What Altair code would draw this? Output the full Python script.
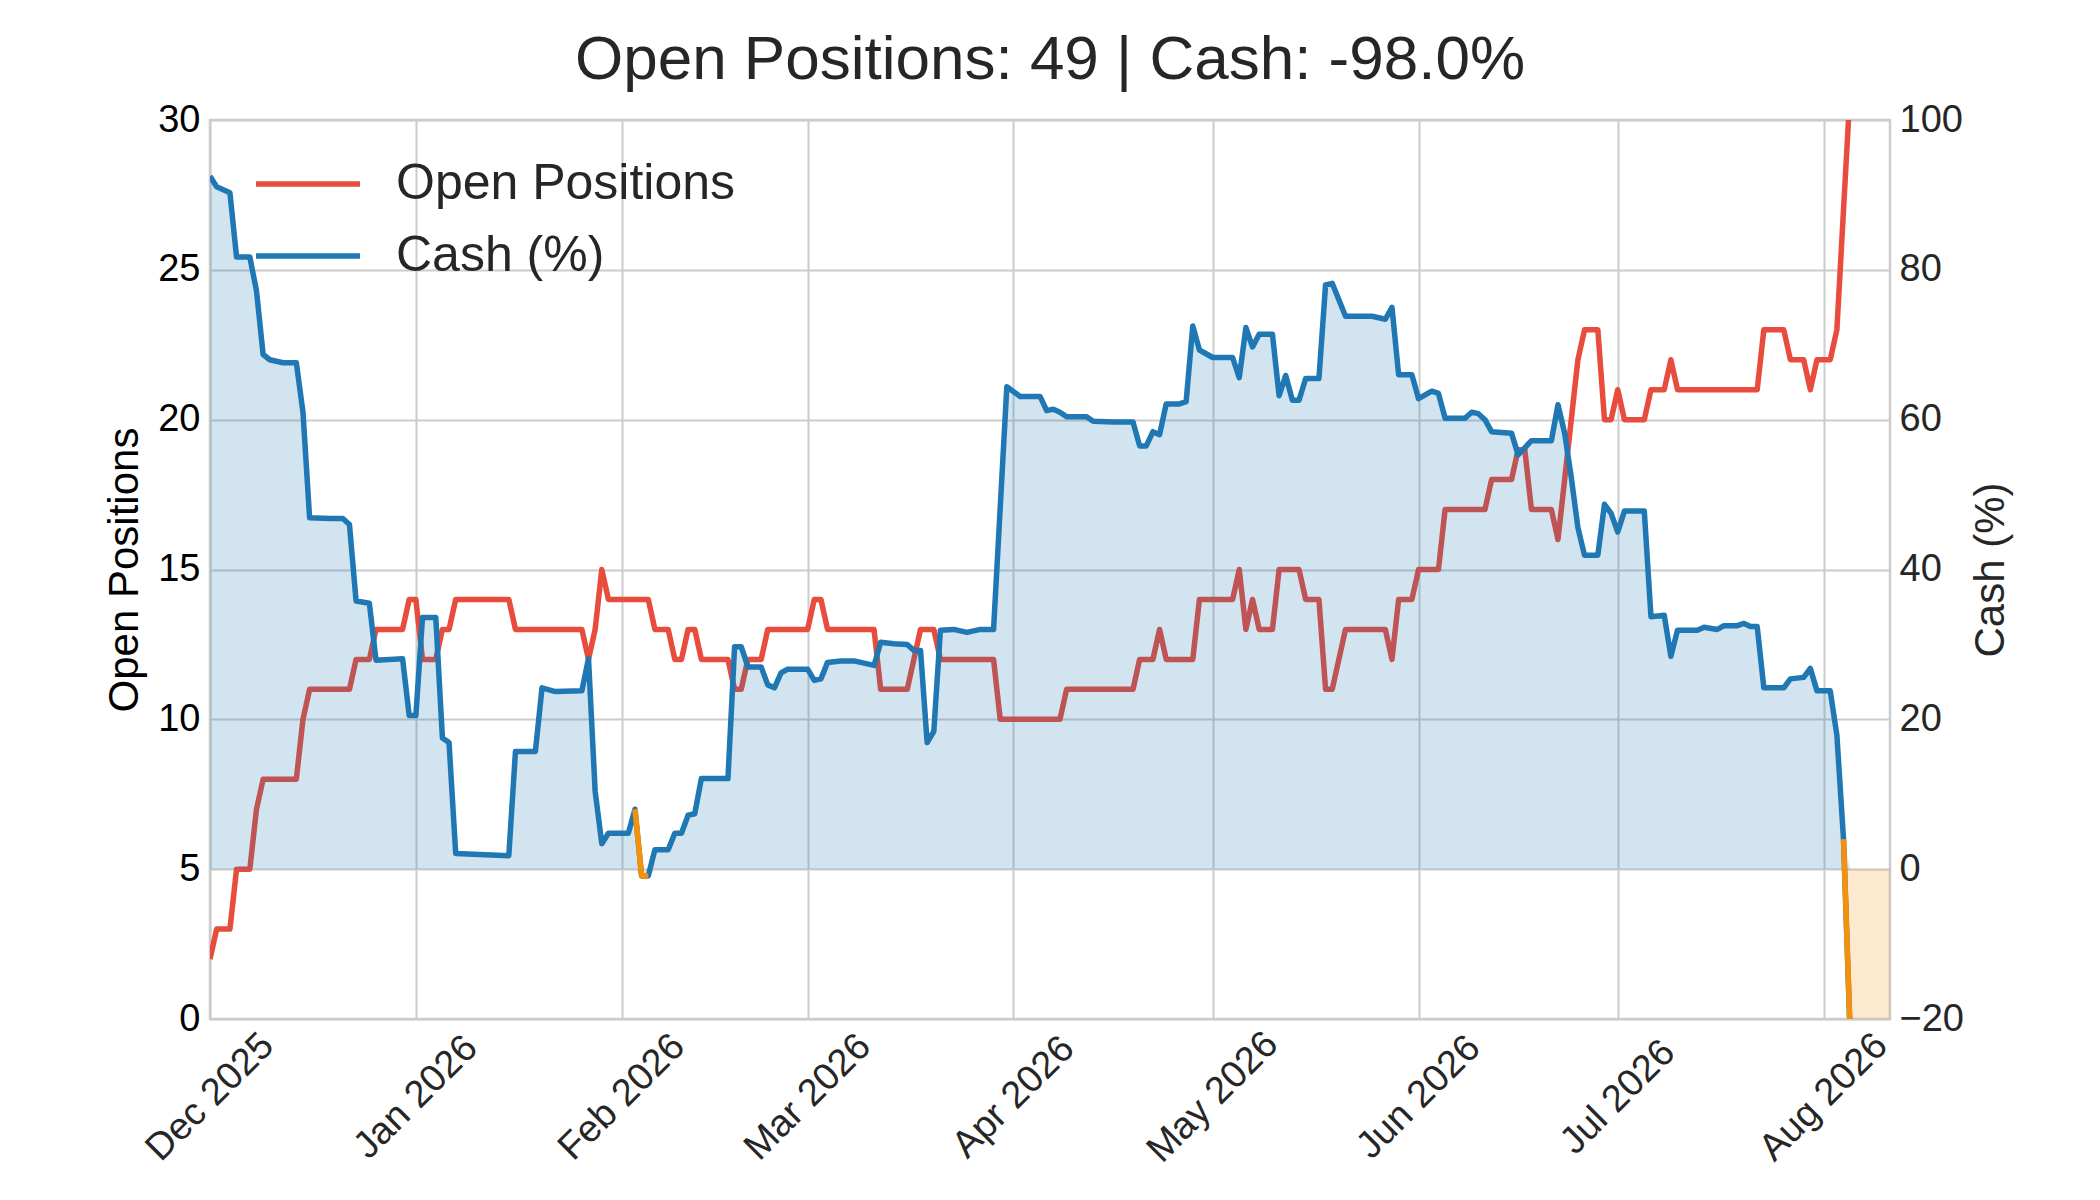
import altair as alt
import pandas as pd

# ---------------- data ----------------
pos_dates = [
    "2025-12-01", "2025-12-02", "2025-12-04", "2025-12-05", "2025-12-07", "2025-12-08",
    "2025-12-09", "2025-12-14", "2025-12-15", "2025-12-16", "2025-12-22", "2025-12-23",
    "2025-12-25", "2025-12-26", "2025-12-30", "2025-12-31", "2026-01-01", "2026-01-02",
    "2026-01-04", "2026-01-05", "2026-01-06", "2026-01-07", "2026-01-15", "2026-01-16",
    "2026-01-26", "2026-01-27", "2026-01-28", "2026-01-29", "2026-01-30", "2026-02-05",
    "2026-02-06", "2026-02-08", "2026-02-09", "2026-02-10", "2026-02-11", "2026-02-12",
    "2026-02-13", "2026-02-17", "2026-02-18", "2026-02-19", "2026-02-20", "2026-02-22",
    "2026-02-23", "2026-03-01", "2026-03-02", "2026-03-03", "2026-03-04", "2026-03-11",
    "2026-03-12", "2026-03-16", "2026-03-17", "2026-03-18", "2026-03-20", "2026-03-21",
    "2026-03-29", "2026-03-30", "2026-04-08", "2026-04-09", "2026-04-19", "2026-04-20",
    "2026-04-22", "2026-04-23", "2026-04-24", "2026-04-28", "2026-04-29", "2026-05-04",
    "2026-05-05", "2026-05-06", "2026-05-07", "2026-05-08", "2026-05-10", "2026-05-11",
    "2026-05-14", "2026-05-15", "2026-05-17", "2026-05-18", "2026-05-19", "2026-05-21",
    "2026-05-27", "2026-05-28", "2026-05-29", "2026-05-31", "2026-06-01", "2026-06-04",
    "2026-06-05", "2026-06-11", "2026-06-12", "2026-06-15", "2026-06-16", "2026-06-17",
    "2026-06-18", "2026-06-21", "2026-06-22", "2026-06-23", "2026-06-24", "2026-06-25",
    "2026-06-26", "2026-06-28", "2026-06-29", "2026-06-30", "2026-07-01", "2026-07-02",
    "2026-07-05", "2026-07-06", "2026-07-08", "2026-07-09", "2026-07-10", "2026-07-22",
    "2026-07-23", "2026-07-26", "2026-07-27", "2026-07-29", "2026-07-30", "2026-07-31",
    "2026-08-02", "2026-08-03", "2026-08-04", "2026-08-05", "2026-08-11",
]
pos_values = [
    2, 3, 3, 5, 5, 7,
    8, 8, 10, 11, 11, 12,
    12, 13, 13, 14, 14, 12,
    12, 13, 13, 14, 14, 13,
    13, 12, 13, 15, 14, 14,
    13, 13, 12, 12, 13, 13,
    12, 12, 11, 11, 12, 12,
    13, 13, 14, 14, 13, 13,
    11, 11, 12, 13, 13, 12,
    12, 10, 10, 11, 11, 12,
    12, 13, 12, 12, 14, 14,
    15, 13, 14, 13, 13, 15,
    15, 14, 14, 11, 11, 13,
    13, 12, 14, 14, 15, 15,
    17, 17, 18, 18, 19, 19,
    17, 17, 16, 18, 20, 22,
    23, 23, 20, 20, 21, 20,
    20, 21, 21, 22, 21, 21,
    23, 23, 22, 22, 21, 22,
    22, 23, 27, 31, 49,
]

cash_dates = [
    "2025-12-01", "2025-12-02", "2025-12-04", "2025-12-05", "2025-12-07", "2025-12-08",
    "2025-12-09", "2025-12-10", "2025-12-12", "2025-12-14", "2025-12-15", "2025-12-16",
    "2025-12-19", "2025-12-21", "2025-12-22", "2025-12-23", "2025-12-25", "2025-12-26",
    "2025-12-30", "2025-12-31", "2026-01-01", "2026-01-02", "2026-01-04", "2026-01-05",
    "2026-01-06", "2026-01-07", "2026-01-15", "2026-01-16", "2026-01-19", "2026-01-20",
    "2026-01-22", "2026-01-26", "2026-01-27", "2026-01-28", "2026-01-29", "2026-01-30",
    "2026-02-02", "2026-02-03", "2026-02-04", "2026-02-05", "2026-02-06", "2026-02-08",
    "2026-02-09", "2026-02-10", "2026-02-11", "2026-02-12", "2026-02-13", "2026-02-17",
    "2026-02-18", "2026-02-19", "2026-02-20", "2026-02-22", "2026-02-23", "2026-02-24",
    "2026-02-25", "2026-02-26", "2026-03-01", "2026-03-02", "2026-03-03", "2026-03-04",
    "2026-03-06", "2026-03-08", "2026-03-11", "2026-03-12", "2026-03-14", "2026-03-16",
    "2026-03-17", "2026-03-18", "2026-03-19", "2026-03-20", "2026-03-21", "2026-03-23",
    "2026-03-25", "2026-03-27", "2026-03-29", "2026-03-31", "2026-04-02", "2026-04-05",
    "2026-04-06", "2026-04-07", "2026-04-08", "2026-04-09", "2026-04-12", "2026-04-13",
    "2026-04-16", "2026-04-19", "2026-04-20", "2026-04-21", "2026-04-22", "2026-04-23",
    "2026-04-24", "2026-04-26", "2026-04-27", "2026-04-28", "2026-04-29", "2026-05-01",
    "2026-05-04", "2026-05-05", "2026-05-06", "2026-05-07", "2026-05-08", "2026-05-10",
    "2026-05-11", "2026-05-12", "2026-05-13", "2026-05-14", "2026-05-15", "2026-05-17",
    "2026-05-18", "2026-05-19", "2026-05-21", "2026-05-25", "2026-05-27", "2026-05-28",
    "2026-05-29", "2026-05-31", "2026-06-01", "2026-06-03", "2026-06-04", "2026-06-05",
    "2026-06-08", "2026-06-09", "2026-06-10", "2026-06-11", "2026-06-12", "2026-06-15",
    "2026-06-16", "2026-06-18", "2026-06-21", "2026-06-22", "2026-06-23", "2026-06-24",
    "2026-06-25", "2026-06-26", "2026-06-28", "2026-06-29", "2026-06-30", "2026-07-01",
    "2026-07-02", "2026-07-05", "2026-07-06", "2026-07-08", "2026-07-09", "2026-07-10",
    "2026-07-13", "2026-07-14", "2026-07-16", "2026-07-17", "2026-07-19", "2026-07-20",
    "2026-07-21", "2026-07-22", "2026-07-23", "2026-07-26", "2026-07-27", "2026-07-29",
    "2026-07-30", "2026-07-31", "2026-08-02", "2026-08-03", "2026-08-04", "2026-08-05",
    "2026-08-11",
]
cash_values = [
    92.5, 91.1, 90.3, 81.7, 81.7, 77.2,
    68.7, 68.0, 67.6, 67.6, 61.0, 46.9,
    46.8, 46.8, 46.0, 35.8, 35.5, 27.9,
    28.1, 20.5, 20.5, 33.6, 33.6, 17.5,
    16.9, 2.1, 1.8, 15.7, 15.7, 24.2,
    23.7, 23.8, 28.1, 10.4, 3.4, 4.8,
    4.8, 8.0, -0.9, -0.9, 2.6, 2.6,
    4.8, 4.8, 7.2, 7.4, 12.1, 12.1,
    29.7, 29.7, 27.0, 27.0, 24.6, 24.2,
    26.2, 26.7, 26.7, 25.2, 25.4, 27.6,
    27.8, 27.8, 27.2, 30.3, 30.1, 30.0,
    29.2, 29.2, 16.9, 18.4, 31.9, 32.0,
    31.6, 32.0, 32.0, 64.4, 63.1, 63.1,
    61.2, 61.4, 61.0, 60.4, 60.4, 59.8,
    59.7, 59.7, 56.5, 56.5, 58.4, 58.0,
    62.1, 62.1, 62.4, 72.5, 69.3, 68.3,
    68.3, 65.6, 72.3, 69.7, 71.4, 71.4,
    63.2, 65.9, 62.6, 62.6, 65.5, 65.5,
    78.0, 78.2, 73.8, 73.8, 73.4, 75.0,
    66.0, 66.0, 62.8, 63.8, 63.5, 60.2,
    60.2, 61.0, 60.8, 60.0, 58.4, 58.2,
    55.3, 57.2, 57.2, 62.0, 58.2, 52.3,
    45.6, 41.9, 41.9, 48.7, 47.5, 45.0,
    47.8, 47.8, 33.7, 33.9, 28.4, 31.9,
    31.9, 32.3, 32.0, 32.5, 32.5, 32.8,
    32.4, 32.4, 24.2, 24.2, 25.4, 25.6,
    26.8, 23.8, 23.8, 17.9, 4.0, -22.0,
    -98.0,
]

month_ticks = ["2025-12-01", "2026-01-01", "2026-02-01", "2026-03-01", "2026-04-01",
               "2026-05-01", "2026-06-01", "2026-07-01", "2026-08-01"]
x_start = "2025-12-01"
x_end = "2026-08-11"
pos_ticks = [0, 5, 10, 15, 20, 25, 30]
cash_ticks = [-20, 0, 20, 40, 60, 80, 100]
series_names = ["Open Positions", "Cash (%)"]

# ---------------- tables ----------------
pos_df = pd.DataFrame({"date": pos_dates, "positions": pos_values, "series": series_names[0]})
cash_df = pd.DataFrame({"date": cash_dates, "cash": cash_values, "series": series_names[1]})
cash_df["cash_pos"] = cash_df["cash"].clip(lower=0)
cash_df["cash_neg"] = cash_df["cash"].clip(upper=0)

# orange line pieces: negative points together with the point before them
rows = []
seg = -1
neg = [v < 0 for v in cash_values]
for i, v in enumerate(cash_values):
    if neg[i]:
        if i == 0 or not neg[i - 1]:
            seg += 1
            if i > 0:
                rows.append({"date": cash_dates[i - 1], "cash": cash_values[i - 1], "seg": seg})
        rows.append({"date": cash_dates[i], "cash": v, "seg": seg})
neg_df = pd.DataFrame(rows)


def dt(s):
    y, m, d = (int(p) for p in s.split("-"))
    return alt.DateTime(year=y, month=m, date=d, utc=True)


FONT = "Liberation Sans"
RED = "#e74c3c"
BLUE = "#1f77b4"
ORANGE = "#f5900a"
GRID = "#cccccc"
LW = 5.5
TICK_FS = 38

x_enc = alt.X(
    "date:T",
    scale=alt.Scale(type="utc", domain=[dt(x_start), dt(x_end)]),
    axis=alt.Axis(
        values=[dt(s) for s in month_ticks],
        labelExpr="utcFormat(datum.value, '%b %Y')",
        title=None, grid=True, gridColor=GRID, gridWidth=2,
        domain=False, ticks=False, tickSize=0,
        labelAngle=315, labelAlign="center", labelBaseline="middle",
        labelPadding=78, labelFontSize=TICK_FS, labelFont=FONT, labelColor="#262626",
        labelOverlap=False, labelFlush=False, labelBound=False,
    ),
)

color_scale = alt.Scale(domain=series_names, range=[RED, BLUE])
legend = alt.Legend(
    orient="none", legendX=43, legendY=39, title=None,
    symbolType="stroke", symbolSize=104 * 104, symbolStrokeWidth=LW,
    labelFontSize=50, labelFont=FONT, labelColor="#262626", labelOffset=33,
    labelLimit=0, clipHeight=50, rowPadding=22, padding=0,
)
color_enc = alt.Color("series:N", scale=color_scale, legend=legend)

left_axis = alt.Axis(
    orient="left", values=pos_ticks, title="Open Positions", grid=True,
    gridColor=GRID, gridWidth=2, domain=False, ticks=False, tickSize=0,
    labelFontSize=TICK_FS, labelFont=FONT, labelColor="#000000", labelPadding=10,
    titleFontSize=42, titleFont=FONT, titleColor="#000000", titleFontWeight="normal",
    titlePadding=11,
)
right_axis = alt.Axis(
    orient="right", values=cash_ticks, title="Cash (%)", grid=False,
    domain=False, ticks=False, tickSize=0,
    labelFontSize=TICK_FS, labelFont=FONT, labelColor="#262626", labelPadding=9,
    titleFontSize=42, titleFont=FONT, titleColor="#262626", titleFontWeight="normal",
    titleAngle=270, titleBaseline="top", titlePadding=7,
)
left_scale = alt.Scale(domain=[0, 30], nice=False, zero=False)
right_scale = alt.Scale(domain=[-20, 100], nice=False, zero=False)

red_line = alt.Chart(pos_df).mark_line(strokeWidth=LW, clip=True, strokeJoin="round").encode(
    x=x_enc,
    y=alt.Y("positions:Q", scale=left_scale, axis=left_axis),
    color=color_enc,
)

area_pos = alt.Chart(cash_df).mark_area(color=BLUE, opacity=0.2, clip=True).encode(
    x=x_enc,
    y=alt.Y("cash_pos:Q", scale=right_scale, axis=right_axis),
    y2=alt.datum(0),
)
area_neg = alt.Chart(cash_df).mark_area(color=ORANGE, opacity=0.2, clip=True).encode(
    x=x_enc,
    y=alt.Y("cash_neg:Q", scale=right_scale, axis=right_axis),
    y2=alt.datum(0),
)
blue_line = alt.Chart(cash_df).mark_line(strokeWidth=LW, clip=True, strokeJoin="round").encode(
    x=x_enc,
    y=alt.Y("cash:Q", scale=right_scale, axis=right_axis),
    color=color_enc,
)
orange_line = alt.Chart(neg_df).mark_line(strokeWidth=LW, clip=True, color=ORANGE, strokeJoin="round").encode(
    x=x_enc,
    y=alt.Y("cash:Q", scale=right_scale, axis=right_axis),
    detail="seg:N",
)

cash_layers = alt.layer(area_pos, area_neg, blue_line, orange_line)

title_text = f"Open Positions: {pos_values[-1]} | Cash: {cash_values[-1]:.1f}%"

chart = (
    alt.layer(red_line, cash_layers)
    .resolve_scale(y="independent")
    .properties(
        width=1680,
        height=899,
        title=alt.TitleParams(
            title_text, fontSize=62, font=FONT, color="#262626", fontWeight="normal",
            anchor="middle", frame="group", baseline="alphabetic", offset=22, dy=62,
        ),
        autosize=alt.AutoSizeParams(type="none"),
        padding={"left": 202, "top": 112, "right": 202, "bottom": 173},
        background="white",
    )
    .configure_view(stroke=GRID, strokeWidth=2.5)
)

chart.save("out.html", embed_options={"renderer": "svg", "actions": False})
